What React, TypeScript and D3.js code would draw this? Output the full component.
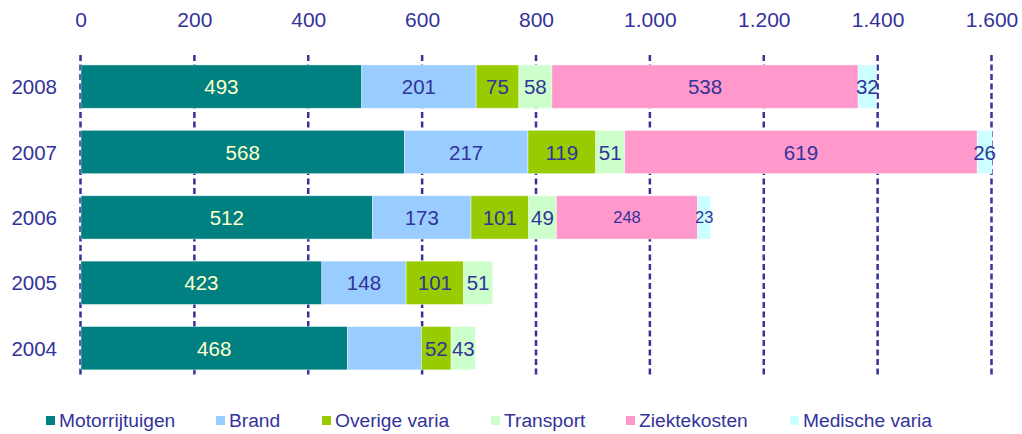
import React from "react";
import * as d3 from "d3";

const years = ["2008", "2007", "2006", "2005", "2004"];
const seriesNames = ["Motorrijtuigen", "Brand", "Overige varia", "Transport", "Ziektekosten", "Medische varia"];
const motorrijtuigen = [493, 568, 512, 423, 468];
const brand = [201, 217, 173, 148, 130];
const overigeVaria = [75, 119, 101, 101, 52];
const transport = [58, 51, 49, 51, 43];
const ziektekosten = [538, 619, 248, 0, 0];
const medischeVaria = [32, 26, 23, 0, 0];
const tickValues = [0, 200, 400, 600, 800, 1000, 1200, 1400, 1600];
// labels hidden in the reference
const hiddenLabels = [["2004", "Brand"]];
const smallLabels = [["2006", "Ziektekosten"], ["2006", "Medische varia"]];

const colors = ["#008080", "#99CCFF", "#99CC00", "#CCFFCC", "#FF99CC", "#CCFFFF"];
const textColor = "#333399";
const font = "'Liberation Sans', Arial, sans-serif";

const nl = d3.formatLocale({ decimal: ",", thousands: ".", grouping: [3], currency: ["€", ""] });
const fmt = nl.format(",");

export default function App() {
  const W = 1022, H = 434;
  const x = d3.scaleLinear().domain([0, 1600]).range([81, 992]);
  const y = d3.scaleBand().domain(years).range([53.9, 380.9]).paddingInner(0.338).paddingOuter(0.169);
  const table = years.map((yr, i) => ({
    year: yr,
    Motorrijtuigen: motorrijtuigen[i],
    Brand: brand[i],
    "Overige varia": overigeVaria[i],
    Transport: transport[i],
    Ziektekosten: ziektekosten[i],
    "Medische varia": medischeVaria[i],
  }));
  const stack = d3.stack<any>().keys(seriesNames)(table);
  const isIn = (arr: string[][], yr: string, k: string) => arr.some(([a, b]) => a === yr && b === k);

  const legendX = [46, 216, 322, 491, 626, 790];

  return (
    <svg width={W} height={H} style={{ position: "absolute", left: 0, top: 0 }} fontFamily={font}>
      <rect width={W} height={H} fill="#fff" />
      {tickValues.map((t) => (
        <g key={t}>
          <line x1={x(t) - 0.5} x2={x(t) - 0.5} y1={55} y2={378} stroke={textColor} strokeWidth={2.5} strokeDasharray="6,3.5" />
          <text x={x(t)} y={26.5} textAnchor="middle" fontSize={21} fill={textColor}>{fmt(t)}</text>
        </g>
      ))}
      {stack.map((layer, si) => (
        <g key={layer.key}>
          {layer.map((d: any, i: number) => {
            const v = d[1] - d[0];
            if (v <= 0) return null;
            const yr = years[i];
            const x0 = x(d[0]), x1 = x(d[1]);
            const yy = y(yr)!;
            const bh = y.bandwidth();
            const hidden = isIn(hiddenLabels, yr, layer.key);
            const small = isIn(smallLabels, yr, layer.key);
            return (
              <g key={yr}>
                <rect x={x0} y={yy} width={x1 - x0} height={bh} fill={colors[si]} stroke="#ffffff" strokeOpacity={0.5} strokeWidth={0.8} />
                {!hidden && (
                  <text x={(x0 + x1) / 2} y={yy + bh / 2} dy={small ? "0.36em" : "0.37em"} textAnchor="middle"
                    fontSize={small ? 16.5 : 20.5} fill={si === 0 ? "#FFFFCC" : textColor}>{fmt(v)}</text>
                )}
              </g>
            );
          })}
        </g>
      ))}
      {years.map((yr) => (
        <text key={yr} x={57} y={y(yr)! + y.bandwidth() / 2} dy="0.37em" textAnchor="end" fontSize={20.5} fill={textColor}>{yr}</text>
      ))}
      {seriesNames.map((s, i) => (
        <g key={s}>
          <rect x={legendX[i]} y={416} width={9} height={9} fill={colors[i]} />
          <text x={legendX[i] + 13} y={426.5} fontSize={19.2} fill={textColor}>{s}</text>
        </g>
      ))}
    </svg>
  );
}
